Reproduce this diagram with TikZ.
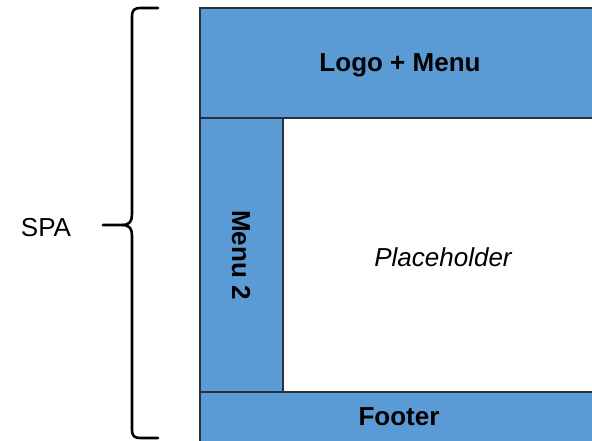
\documentclass[tikz,border=0pt]{standalone}
\usepackage{fontspec}
\setmainfont{Liberation Sans}
\definecolor{boxblue}{HTML}{5B9BD5}
\definecolor{edge}{HTML}{2A2F38}
\begin{document}
\begin{tikzpicture}[x=1pt,y=-1pt,
  panel/.style={fill=boxblue,draw=edge,line width=1.1pt},
  blank/.style={fill=white,draw=edge,line width=1.1pt},
  lbl/.style={font=\fontsize{26}{30}\selectfont,inner sep=0pt},
  bracepath/.style={line width=2.6pt,line cap=round,line join=round}]
\useasboundingbox (0,0) rectangle (592,440);
\clip (0,0) rectangle (592,440);
\fill[white] (0,0) rectangle (592,440);
% panels
\draw[panel] (200,8) rectangle (610,118);
\draw[panel] (200,118) rectangle (283,392);
\draw[blank] (283,118) rectangle (610,392);
\draw[panel] (200,392) rectangle (610,460);
% labels
\node[lbl,font=\fontsize{26}{30}\selectfont\bfseries] (logo) at (400,65) {Logo + Menu};
\node[lbl,font=\fontsize{26}{30}\selectfont\bfseries,rotate=-90] (menu2) at (241,255) {Menu 2};
\node[lbl,font=\fontsize{26}{30}\selectfont\itshape] (ph) at (443,257) {Placeholder};
\node[lbl,font=\fontsize{26}{30}\selectfont\bfseries] (foot) at (399,417) {Footer};
\node[lbl] (spa) at (46,228) {SPA};
% brace
\draw[bracepath] (158,8) -- (141,8) .. controls (134,8) and (132,10) .. (132,17)
  -- (132,214) .. controls (132,221) and (130,225) .. (122,225) -- (103,225);
\draw[bracepath] (122,225) .. controls (130,225) and (132,229) .. (132,236)
  -- (132,429) .. controls (132,436) and (134,438) .. (141,438) -- (158,438);
\end{tikzpicture}
\end{document}
